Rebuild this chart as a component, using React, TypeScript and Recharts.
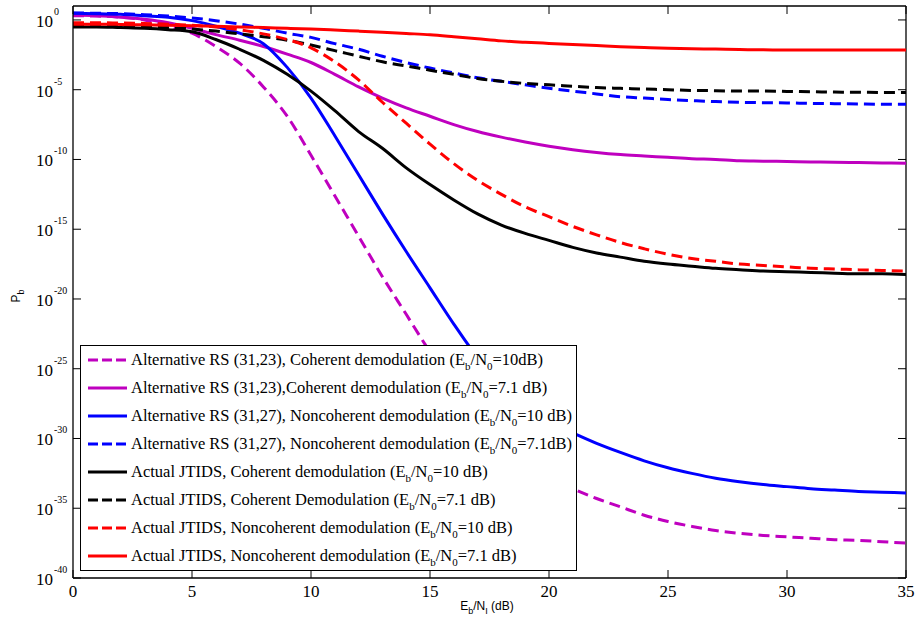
import React from 'react';
import { LineChart, Line, XAxis, YAxis, ReferenceLine, Legend } from 'recharts';

// Eb/NI (dB)
const ebNi = [0,1,2,3,4,5,6,7,8,9,10,11,12,13,14,15,16,17,18,19,20,21,22,23,24,25,26,27,28,29,30,31,32,33,34,35];

// log10(Pb) values
const altRS3123Coh10 = [0.3,0.28,0.2,0.0,-0.45,-0.95,-1.9,-3.1,-4.8,-6.9,-9.7,-12.6,-15.5,-18.4,-21.1,-23.8,-26.3,-28.5,-30.3,-31.7,-32.8,-33.6,-34.3,-34.9,-35.5,-35.95,-36.3,-36.6,-36.8,-36.95,-37.05,-37.15,-37.25,-37.3,-37.4,-37.5];
const altRS3123Coh71 = [0.35,0.3,0.2,0.05,-0.2,-0.6,-1.05,-1.45,-1.9,-2.45,-3.05,-3.9,-4.8,-5.6,-6.3,-6.9,-7.5,-8.0,-8.4,-8.75,-9.05,-9.3,-9.5,-9.65,-9.75,-9.85,-9.95,-10.0,-10.1,-10.12,-10.15,-10.18,-10.2,-10.22,-10.25,-10.27];
const altRS3127Nc10 = [0.48,0.45,0.4,0.3,0.2,-0.05,-0.45,-0.95,-1.7,-3.4,-5.6,-8.3,-11.1,-13.9,-16.6,-19.2,-21.8,-24.2,-26.1,-27.6,-28.8,-29.6,-30.35,-31.0,-31.6,-32.1,-32.5,-32.85,-33.1,-33.3,-33.45,-33.6,-33.7,-33.8,-33.85,-33.9];
const altRS3127Nc71 = [0.5,0.48,0.45,0.38,0.28,0.14,-0.05,-0.3,-0.6,-0.95,-1.25,-1.7,-2.1,-2.6,-3.05,-3.45,-3.8,-4.15,-4.4,-4.65,-4.9,-5.1,-5.3,-5.5,-5.6,-5.7,-5.78,-5.85,-5.9,-5.93,-5.95,-5.98,-6.0,-6.02,-6.04,-6.05];
const jtidsCoh10 = [-0.5,-0.5,-0.55,-0.6,-0.7,-0.85,-1.4,-2.1,-2.9,-3.9,-5.1,-6.5,-8.0,-9.2,-10.6,-11.8,-12.9,-13.9,-14.7,-15.3,-15.8,-16.3,-16.7,-17.0,-17.3,-17.5,-17.65,-17.8,-17.9,-18.0,-18.05,-18.1,-18.15,-18.2,-18.2,-18.25];
const jtidsCoh71 = [-0.45,-0.45,-0.47,-0.5,-0.55,-0.65,-0.8,-1.0,-1.2,-1.45,-1.8,-2.2,-2.6,-3.0,-3.3,-3.6,-3.9,-4.2,-4.4,-4.55,-4.65,-4.75,-4.85,-4.9,-4.95,-5.0,-5.05,-5.07,-5.1,-5.1,-5.12,-5.15,-5.17,-5.18,-5.2,-5.2];
const jtidsNc10 = [-0.2,-0.2,-0.22,-0.25,-0.3,-0.38,-0.5,-0.7,-1.0,-1.4,-2.0,-3.0,-4.3,-5.9,-7.4,-8.9,-10.3,-11.5,-12.5,-13.4,-14.1,-14.8,-15.4,-15.95,-16.4,-16.8,-17.1,-17.3,-17.5,-17.6,-17.7,-17.8,-17.85,-17.9,-17.95,-18.0];
const jtidsNc71 = [-0.3,-0.3,-0.32,-0.35,-0.38,-0.42,-0.46,-0.5,-0.55,-0.6,-0.65,-0.72,-0.8,-0.88,-0.97,-1.06,-1.2,-1.35,-1.5,-1.6,-1.68,-1.76,-1.84,-1.92,-1.98,-2.03,-2.06,-2.09,-2.12,-2.14,-2.15,-2.15,-2.15,-2.15,-2.15,-2.15];

const xTicks = [0,5,10,15,20,25,30,35];
const yTickExps = [0,-5,-10,-15,-20,-25,-30,-35,-40];

const seriesKeys = ['s1','s2','s3','s4','s5','s6','s7','s8'];
const seriesLog = [altRS3123Coh10, altRS3123Coh71, altRS3127Nc10, altRS3127Nc71, jtidsCoh10, jtidsCoh71, jtidsNc10, jtidsNc71];
const seriesColors = ['#BF00BF','#BF00BF','#0000FF','#0000FF','#000000','#000000','#FF0000','#FF0000'];
const seriesDashed = [true,false,false,true,false,true,true,false];
const legendPrefix = [
  'Alternative RS (31,23), Coherent demodulation (E',
  'Alternative RS (31,23),Coherent demodulation (E',
  'Alternative RS (31,27), Noncoherent demodulation (E',
  'Alternative RS (31,27), Noncoherent demodulation (E',
  'Actual JTIDS, Coherent demodulation (E',
  'Actual JTIDS, Coherent Demodulation (E',
  'Actual JTIDS, Noncoherent demodulation (E',
  'Actual JTIDS, Noncoherent demodulation (E',
];
const legendSuffix = ['=10dB)','=7.1 dB)','=10 dB)','=7.1dB)','=10 dB)','=7.1 dB)','=10 dB)','=7.1 dB)'];

const rows = ebNi.map((x, i) => {
  const r: any = { x };
  seriesKeys.forEach((k, j) => { r[k] = Math.pow(10, seriesLog[j][i]); });
  return r;
});

const W = 917, H = 621;
const PLOT_TOP = 6, PLOT_RIGHT = 906;
const SERIF = '"Liberation Serif", "Times New Roman", serif';
const SANS = '"Liberation Sans", Arial, sans-serif';
const DASH = '11 6';

const XTick = (p: any) => {
  const { x, y, payload } = p;
  return (
    <g>
      <line x1={x} y1={y} x2={x} y2={y - 8} stroke="#000" strokeWidth={1} />
      <line x1={x} y1={PLOT_TOP} x2={x} y2={PLOT_TOP + 8} stroke="#000" strokeWidth={1} />
      <text x={x} y={y + 19} textAnchor="middle" fontFamily={SERIF} fontSize={17} fill="#000">{payload.value}</text>
    </g>
  );
};

const YTick = (p: any) => {
  const { x, y, payload } = p;
  const e = Math.round(Math.log10(payload.value));
  return (
    <g>
      <line x1={x} y1={y} x2={x + 8} y2={y} stroke="#000" strokeWidth={1} />
      <line x1={PLOT_RIGHT} y1={y} x2={PLOT_RIGHT - 8} y2={y} stroke="#000" strokeWidth={1} />
      <text x={53} y={y + 7} textAnchor="end" fontFamily={SERIF} fontSize={17} fill="#000">10</text>
      <text x={54} y={y - 5} textAnchor="start" fontFamily={SERIF} fontSize={10} fill="#000">{e}</text>
    </g>
  );
};

const YLabel = () => (
  <text x={20} y={296} transform="rotate(-90 20 296)" textAnchor="middle" fontFamily={SANS} fontSize={12} fill="#000">
    P<tspan dy={4} fontSize={9}>b</tspan>
  </text>
);

const XLabel = () => (
  <text x={487} y={610} textAnchor="middle" fontFamily={SANS} fontSize={12} fill="#000">
    E<tspan dy={4} fontSize={9}>b</tspan><tspan dy={-4}>/N</tspan><tspan dy={4} fontSize={9}>I</tspan><tspan dy={-4}> (dB)</tspan>
  </text>
);

const LegendBox = () => (
  <div style={{ width: 495, height: 224, border: '1px solid #000', background: '#fff', boxSizing: 'content-box', position: 'relative', fontFamily: SERIF, fontSize: 16.5, color: '#000' }}>
    {seriesKeys.map((k, i) => (
      <div key={k} style={{ position: 'absolute', left: 0, top: 14 + i * 28 - 10, height: 20, display: 'flex', alignItems: 'center', whiteSpace: 'nowrap' }}>
        <svg width={48} height={20} style={{ display: 'block' }}>
          <line x1={7} y1={10} x2={46} y2={10} stroke={seriesColors[i]} strokeWidth={3} strokeDasharray={seriesDashed[i] ? '10 4' : undefined} />
        </svg>
        <span style={{ marginLeft: 2, lineHeight: '20px' }}>
          {legendPrefix[i]}
          <span style={{ fontSize: 11, position: 'relative', top: 5 }}>b</span>
          /N
          <span style={{ fontSize: 11, position: 'relative', top: 5 }}>0</span>
          {legendSuffix[i]}
        </span>
      </div>
    ))}
  </div>
);

export default function App() {
  return (
    <div style={{ position: 'absolute', left: 0, top: 0, width: W, height: H, background: '#fff' }}>
      <LineChart width={W} height={H} data={rows} margin={{ top: PLOT_TOP, right: W - PLOT_RIGHT, left: 0, bottom: 0 }}>
        <XAxis dataKey="x" type="number" domain={[0, 35]} ticks={xTicks} height={43} tickSize={0} tickMargin={0} tickLine={false}
          axisLine={{ stroke: '#000', strokeWidth: 1.3 }} tick={<XTick />} interval={0} allowDataOverflow label={<XLabel />} />
        <YAxis type="number" scale="log" domain={[1e-40, 10]} ticks={yTickExps.map((e) => Math.pow(10, e))} width={73} tickSize={0} tickMargin={0}
          tickLine={false} axisLine={{ stroke: '#000', strokeWidth: 1.3 }} tick={<YTick />} interval={0} allowDataOverflow label={<YLabel />} />
        <ReferenceLine y={10} stroke="#000" strokeWidth={1.3} ifOverflow="visible" />
        <ReferenceLine x={35} stroke="#000" strokeWidth={1.3} ifOverflow="visible" />
        {seriesKeys.map((k, i) => (
          <Line key={k} dataKey={k} type="monotone" stroke={seriesColors[i]} strokeWidth={3}
            strokeDasharray={seriesDashed[i] ? DASH : undefined} dot={false} activeDot={false} isAnimationActive={false} />
        ))}
        <Legend layout="vertical" align="center" verticalAlign="middle" content={<LegendBox />}
          wrapperStyle={{ left: 80, top: 345, width: 497, height: 226, right: 'auto', bottom: 'auto' }} />
      </LineChart>
    </div>
  );
}
